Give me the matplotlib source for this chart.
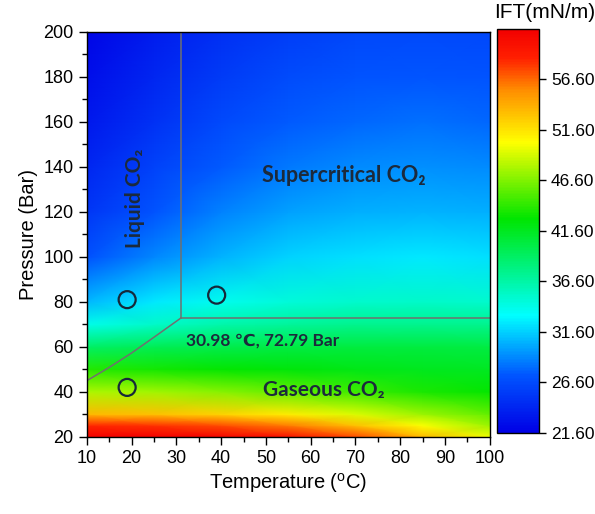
import numpy as np
import matplotlib
matplotlib.use("Agg")
import matplotlib.pyplot as plt
from matplotlib.colors import LinearSegmentedColormap
from matplotlib.ticker import MultipleLocator

plt.rcParams['font.family'] = ['Liberation Sans', 'DejaVu Sans']
plt.rcParams['mathtext.fontset'] = 'custom'
plt.rcParams['mathtext.rm'] = 'Liberation Sans'

# IFT field (mN/m)
temps = [10, 25, 40, 55, 70, 85, 100]
pressures = [20, 25, 30, 40, 50, 60, 70, 80, 100, 120, 140, 160, 180, 200]
ift = [
    [61.3, 61.3, 61.0, 60.0, 57.5, 53.5, 50.0],   # 20 bar
    [58.5, 58.3, 57.5, 56.0, 53.3, 50.2, 47.5],   # 25
    [53.5, 53.2, 52.5, 51.2, 49.4, 47.5, 45.8],   # 30
    [48.0, 47.6, 46.8, 45.7, 44.6, 43.6, 42.9],   # 40
    [43.8, 43.4, 42.9, 42.4, 42.0, 41.7, 41.5],   # 50
    [39.0, 39.6, 40.0, 40.3, 40.4, 40.4, 40.3],   # 60
    [34.0, 35.3, 36.3, 37.0, 37.4, 37.5, 37.4],   # 70
    [30.8, 32.5, 33.8, 34.7, 35.1, 35.3, 35.1],   # 80
    [27.0, 29.0, 30.6, 31.7, 32.2, 32.4, 32.2],   # 100
    [25.3, 27.2, 28.8, 29.9, 30.4, 30.6, 30.4],   # 120
    [24.2, 26.0, 27.5, 28.6, 29.1, 29.3, 29.1],   # 140
    [23.3, 25.0, 26.5, 27.5, 28.0, 28.2, 28.0],   # 160
    [22.6, 24.2, 25.6, 26.6, 27.1, 27.3, 27.1],   # 180
    [22.0, 23.5, 24.8, 25.8, 26.3, 26.5, 26.3],   # 200
]

# phase boundaries
crit_t, crit_p = 30.98, 72.79
vap_t = [10, 15, 20, 25, 30.98]
vap_p = [45.0, 50.9, 57.3, 64.3, 72.79]

# measurement points
pts_t = [19, 39, 19]
pts_p = [81, 83, 42]

cb_ticks = [21.6, 26.6, 31.6, 36.6, 41.6, 46.6, 51.6, 56.6]
vmin, vmax = 21.6, 61.6

cmap = LinearSegmentedColormap.from_list("ift", [
    (0.0, (0.0, 0.0, 0.9)),
    (0.14, (0.0, 0.33, 1.0)),
    (0.29, (0.0, 1.0, 1.0)),
    (0.53, (0.0, 0.9, 0.0)),
    (0.72, (1.0, 1.0, 0.0)),
    (0.85, (1.0, 0.55, 0.0)),
    (0.93, (1.0, 0.12, 0.0)),
    (1.0, (0.95, 0.0, 0.0)),
])

fig = plt.figure(figsize=(5.95, 5.14), dpi=100)
ax = fig.add_axes([0.146, 0.150, 0.677, 0.788])

T, P = np.meshgrid(temps, pressures)
mesh = ax.pcolormesh(T, P, np.array(ift), shading='gouraud', cmap=cmap,
                     vmin=vmin, vmax=vmax, rasterized=True)

line_c = '#707070'
ax.plot([crit_t, crit_t], [crit_p, 200], color=line_c, lw=1.1)
ax.plot([crit_t, 100], [crit_p, crit_p], color=line_c, lw=1.1)
ax.plot(vap_t, vap_p, color=line_c, lw=1.1)

ax.scatter(pts_t, pts_p, s=150, facecolors='none', edgecolors='#16283a',
           linewidths=1.6, zorder=5)

ann = dict(family=['Lato', 'DejaVu Sans'], fontweight='bold', color='#1c2a3c')
ax.text(67.5, 136, 'Supercritical CO\u2082', fontsize=15.5, ha='center', va='center', **ann)
ax.text(20.8, 126, 'Liquid CO\u2082', fontsize=15, ha='center', va='center',
        rotation=90, **ann)
ax.text(32.2, 63, '30.98 \u2103, 72.79 Bar', fontsize=12.5, ha='left', va='center', **ann)
ax.text(63, 41, 'Gaseous CO\u2082', fontsize=15, ha='center', va='center', **ann)

ax.set_xlim(10, 100)
ax.set_ylim(20, 200)
ax.xaxis.set_major_locator(MultipleLocator(10))
ax.xaxis.set_minor_locator(MultipleLocator(5))
ax.yaxis.set_major_locator(MultipleLocator(20))
ax.yaxis.set_minor_locator(MultipleLocator(10))
ax.tick_params(which='major', direction='out', length=6, width=1, labelsize=13)
ax.tick_params(which='minor', direction='out', length=3.5, width=1)
ax.set_xlabel('Temperature ($^{\\rm o}$C)', fontsize=14.5, labelpad=3)
ax.set_ylabel('Pressure (Bar)', fontsize=14.5, labelpad=4)
for s in ax.spines.values():
    s.set_linewidth(1)

cax = fig.add_axes([0.835, 0.158, 0.071, 0.786])
cb = fig.colorbar(mesh, cax=cax, ticks=cb_ticks, format='%.2f')
cb.ax.tick_params(labelsize=12.5, length=5, width=1, direction='out')
cb.outline.set_linewidth(1)
fig.text(0.916, 0.975, 'IFT(mN/m)', fontsize=15, ha='center', va='center')

fig.savefig('out.png', dpi=100)
